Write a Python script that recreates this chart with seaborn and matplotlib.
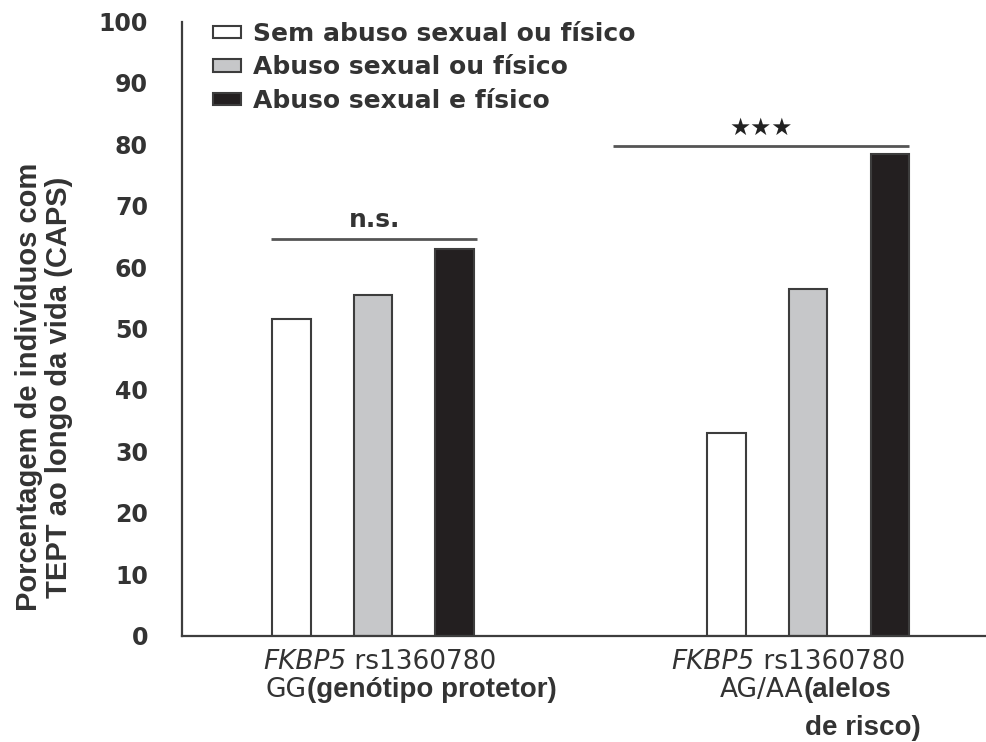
import matplotlib
matplotlib.use("Agg")
import matplotlib.pyplot as plt
import matplotlib.transforms as mtransforms
from matplotlib.font_manager import FontProperties
import seaborn as sns
import pandas as pd

# --- data -------------------------------------------------------------
genotypes = ["GG", "AG/AA"]
conditions = [
    "Sem abuso sexual ou físico",
    "Abuso sexual ou físico",
    "Abuso sexual e físico",
]
pct_gg = [51.5, 55.5, 63.0]
pct_ag = [33.0, 56.5, 78.5]

y_ticks = [0, 10, 20, 30, 40, 50, 60, 70, 80, 90, 100]

gene_name = "FKBP5"
snp_id = "rs1360780"
genotype_codes = ["GG", "AG/AA"]
genotype_notes = [["(genótipo protetor)"], ["(alelos", "de risco)"]]

sig_labels = ["n.s.", "★★★"]
sig_levels = [64.6, 79.7]

# --- styling ----------------------------------------------------------
TEXT = "#333333"
EDGE = "#3d3d3d"
fill_colors = ["#ffffff", "#c6c7c9", "#231f20"]

sns.set_theme(style="white")
plt.rcParams["font.family"] = ["DejaVu Sans"]

df = pd.DataFrame({
    "genotipo": [g for g in genotypes for _ in conditions],
    "condicao": conditions * len(genotypes),
    "pct": pct_gg + pct_ag,
})

fig = plt.figure(figsize=(9.87, 7.42), dpi=100)
ax = fig.add_axes([182 / 987, 1 - 635.5 / 742, 805 / 987, 614 / 742])

sns.barplot(
    data=df, x="genotipo", y="pct", hue="condicao",
    order=genotypes, hue_order=conditions, palette=fill_colors,
    saturation=1, width=0.562, gap=0.53, errorbar=None,
    edgecolor=EDGE, linewidth=1.5, ax=ax,
)

# axes frame
x_left, x_right = -0.439, 1.411
ax.set_xlim(x_left, x_right)
ax.set_ylim(0, 100)
sns.despine(ax=ax)
for side in ("left", "bottom"):
    ax.spines[side].set_color(EDGE)
    ax.spines[side].set_linewidth(1.6)

ax.set_yticks(y_ticks)
ax.set_yticklabels([str(v) for v in y_ticks])
ax.tick_params(axis="y", direction="out", length=11.5, width=1.5,
               color=EDGE, pad=13, labelsize=17, labelcolor=TEXT)
for lab in ax.get_yticklabels():
    lab.set_fontweight("bold")

ax.set_xticks([x_left, 0.5])
ax.set_xticklabels(["", ""])
ax.tick_params(axis="x", direction="out", length=6, width=1.5, color=EDGE)
ax.set_xlabel("")

# y label
ax.set_ylabel("Porcentagem de indivíduos com\nTEPT ao longo da vida (CAPS)",
              fontsize=21, fontfamily="Liberation Sans", fontweight="bold",
              color=TEXT, linespacing=1.05)
ax.yaxis.set_label_coords(-0.136, 0.405)

# group labels below the axis
trans = mtransforms.blended_transform_factory(ax.transData, ax.transAxes)
line_y = [-0.0432, -0.0890, -0.1500]
gene_split = [-0.062, 0.877]
code_split = [-0.152, 0.989]
for i, code in enumerate(genotype_codes):
    ax.text(gene_split[i], line_y[0], gene_name, transform=trans, ha="right",
            va="center", fontsize=19, fontstyle="italic", color=TEXT)
    ax.text(gene_split[i], line_y[0], " " + snp_id, transform=trans,
            ha="left", va="center", fontsize=19, color=TEXT)
    ax.text(code_split[i], line_y[1], code, transform=trans, ha="right",
            va="center", fontsize=19, color=TEXT)
    for j, note in enumerate(genotype_notes[i]):
        ax.text(code_split[i] + 0.004 * j, line_y[1 + j], note, transform=trans,
                ha="left", va="center", fontsize=20,
                fontfamily="Liberation Sans", fontweight="bold", color=TEXT)

# significance brackets
sig_spans = [(-0.234, 0.239), (0.552, 1.232)]
for (x0, x1), level, label in zip(sig_spans, sig_levels, sig_labels):
    ax.plot([x0, x1], [level, level], color="#555555", lw=2.0,
            solid_capstyle="butt")
    if label == "n.s.":
        ax.annotate(label, xy=((x0 + x1) / 2, level), xytext=(0, 5),
                    textcoords="offset points", ha="center", va="bottom",
                    fontsize=18, fontweight="bold", color=TEXT)
    else:
        ax.annotate(label, xy=((x0 + x1) / 2, level), xytext=(0, 13),
                    textcoords="offset points", ha="center", va="center",
                    fontsize=17, color="#222222")

# legend
handles, labels = ax.get_legend_handles_labels()
leg = ax.legend(
    handles, labels, loc="upper left",
    bbox_to_anchor=(213 / 987, 1 - 22 / 742), bbox_transform=fig.transFigure,
    frameon=False, borderpad=0, borderaxespad=0,
    handlelength=1.12, handleheight=0.4, handletextpad=0.5,
    labelspacing=0.38,
    prop=FontProperties(family="DejaVu Sans", weight="bold", size=18),
)
for t in leg.get_texts():
    t.set_color(TEXT)

fig.savefig("out.png", dpi=100, facecolor="white")
